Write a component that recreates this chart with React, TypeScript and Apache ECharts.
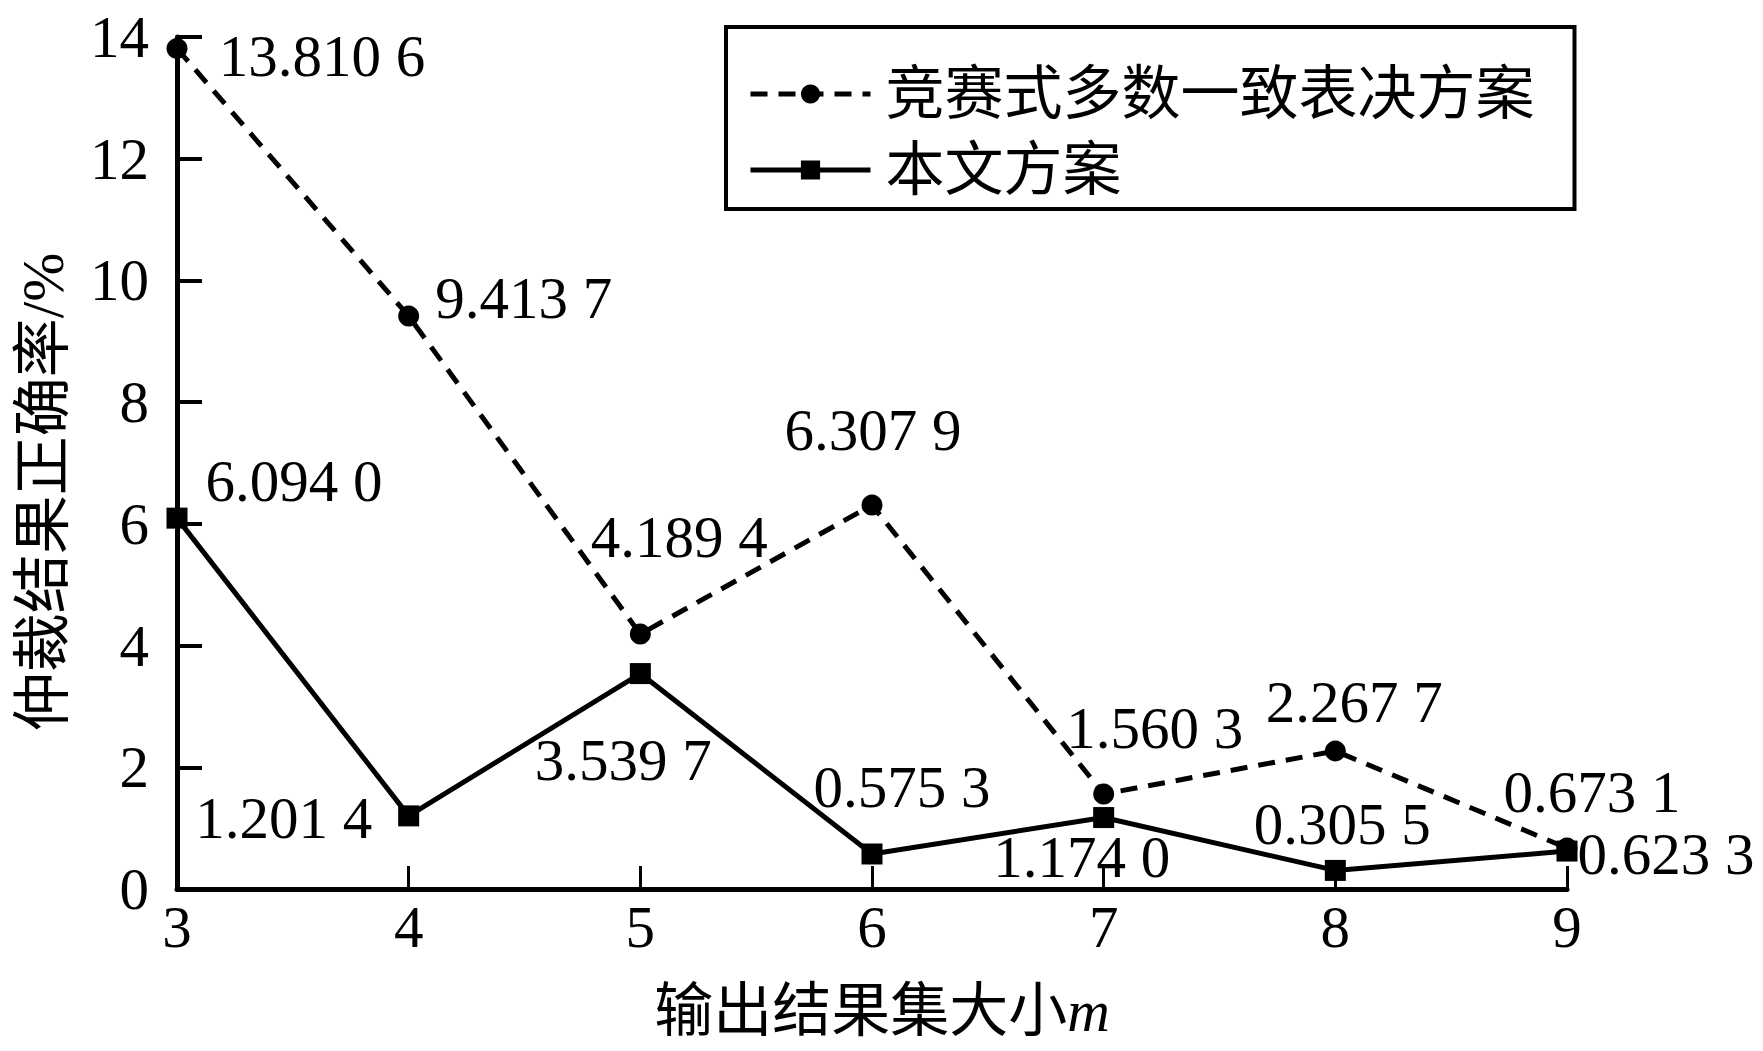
import React, { useEffect, useRef } from "react";
import * as echarts from "echarts";

const categories = ["3", "4", "5", "6", "7", "8", "9"];
const seriesNames = ["竞赛式多数一致表决方案", "本文方案"];
const tournamentValues = [13.8106, 9.4137, 4.1894, 6.3079, 1.5603, 2.2677, 0.6731];
const proposedValues = [6.094, 1.2014, 3.5397, 0.5753, 1.174, 0.3055, 0.6233];
const yTicks = { min: 0, max: 14, interval: 2 };
const yAxisName = "仲裁结果正确率/%";
const xAxisNameMain = "输出结果集大小";
const xAxisNameVar = "m";

// label offsets (layout only) relative to each point
const tournamentLabelOffsets = [
  [145, 7], [115, -18], [39, -97], [1, -75], [51, -66], [19, -49], [25, -56],
];
const proposedLabelOffsets = [
  [117, -37], [-125, 2], [-17, 86], [30, -67], [-22, 39], [7, -46], [99, 3],
];

const FONT = "'Liberation Serif', 'Times New Roman', 'Noto Sans CJK SC', serif";
const FS = 59;

const fmt = (v: number) => {
  const s = v.toFixed(4);
  return s.slice(0, -1) + " " + s.slice(-1);
};

export default function App() {
  const ref = useRef<HTMLDivElement>(null);
  useEffect(() => {
    document.body.style.margin = "0";
    if (!ref.current) return;
    const chart = echarts.init(ref.current, undefined, { renderer: "svg" });
    const labelBase = {
      show: true,
      position: "inside" as const,
      align: "center" as const,
      verticalAlign: "middle" as const,
      color: "#000",
      fontSize: FS,
      fontFamily: FONT,
      formatter: (p: any) => fmt(p.value),
    };
    chart.setOption({
      animation: false,
      backgroundColor: "#fff",
      grid: { left: 177, right: 196, top: 37, bottom: 162, containLabel: false },
      legend: {
        orient: "vertical",
        left: 726,
        top: 27,
        width: 834,
        padding: [36, 40, 8, 22],
        borderColor: "#000",
        borderWidth: 4,
        itemWidth: 120,
        itemHeight: 24,
        itemGap: 14,
        lineStyle: { width: 5 },
        textStyle: {
          color: "#000",
          fontSize: FS,
          fontFamily: FONT,
          lineHeight: 62,
          padding: [0, 0, 0, 10],
        },
        data: seriesNames,
      },
      xAxis: {
        type: "category",
        data: categories,
        boundaryGap: false,
        name: `{a|${xAxisNameMain}}{b|${xAxisNameVar}}`,
        nameLocation: "middle",
        nameGap: 92,
        nameTextStyle: {
          padding: [0, 0, 0, 20],
          rich: {
            a: { fontSize: FS, fontFamily: FONT, color: "#000" },
            b: { fontSize: FS, fontFamily: FONT, fontStyle: "italic", color: "#000" },
          },
        },
        axisLine: { lineStyle: { color: "#000", width: 5 } },
        axisTick: { inside: true, length: 23, lineStyle: { color: "#000", width: 3 } },
        axisLabel: { color: "#000", fontSize: FS, fontFamily: FONT, margin: 8 },
        splitLine: { show: false },
      },
      yAxis: {
        type: "value",
        min: yTicks.min,
        max: yTicks.max,
        interval: yTicks.interval,
        name: yAxisName,
        nameLocation: "middle",
        nameRotate: 90,
        nameGap: 105,
        nameTextStyle: {
          color: "#000",
          fontSize: FS,
          fontFamily: FONT,
          padding: [0, 58, 0, 0],
        },
        axisLine: { show: true, lineStyle: { color: "#000", width: 5 } },
        axisTick: { show: true, inside: true, length: 25, lineStyle: { color: "#000", width: 4 } },
        axisLabel: { color: "#000", fontSize: FS, fontFamily: FONT, margin: 28 },
        splitLine: { show: false },
      },
      series: [
        {
          name: seriesNames[0],
          type: "line",
          data: tournamentValues.map((v, i) => ({
            value: v,
            label: { offset: tournamentLabelOffsets[i] },
          })),
          symbol: "circle",
          symbolSize: 21,
          itemStyle: { color: "#000" },
          lineStyle: { color: "#000", width: 5, type: [17, 11] },
          label: labelBase,
          z: 3,
        },
        {
          name: seriesNames[1],
          type: "line",
          data: proposedValues.map((v, i) => ({
            value: v,
            label: { offset: proposedLabelOffsets[i] },
          })),
          symbol: "rect",
          symbolSize: 21,
          itemStyle: { color: "#000" },
          lineStyle: { color: "#000", width: 5, type: "solid" },
          label: labelBase,
          z: 3,
        },
      ],
    });
    return () => chart.dispose();
  }, []);
  return <div ref={ref} style={{ width: 1763, height: 1051 }} />;
}
